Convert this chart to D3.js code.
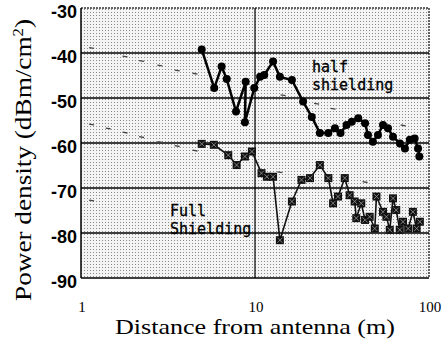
<!DOCTYPE html>
<html>
<head>
<meta charset="utf-8">
<script src="https://cdn.jsdelivr.net/npm/d3@7"></script>
<style>
  body { margin: 0; background: #fff; }
  svg { display: block; }
</style>
</head>
<body>
<svg id="chart" width="447" height="350"></svg>
<script>
// tick labels
const xTicks = [1, 10, 100];
const yTicks = [-30, -40, -50, -60, -70, -80, -90];
const gridLines = [-40, -50, -60, -70, -80];

// half shielding (circles): distance (m), power (dBm/cm2)
const halfX = [4.94, 5.83, 6.43, 6.88, 7.78, 8.84, 8.75, 9.9, 10.7, 11.3, 12.7, 13.9, 16.3, 18.9, 21.2, 23.6, 26.4, 28.8, 31.0, 33.6, 36.0, 39.2, 42.9, 44.6, 47.6, 50.9, 54.4, 58.1, 62.1, 68.1, 72.7, 77.6, 82.7, 86.5, 88.0];
const halfY = [-39.2, -47.8, -43.0, -45.8, -53.0, -46.4, -55.4, -47.8, -45.3, -44.9, -41.9, -45.3, -46.0, -50.8, -54.2, -57.8, -57.8, -56.7, -57.8, -56.0, -55.3, -54.5, -55.6, -58.2, -59.7, -58.2, -56.0, -56.7, -58.6, -60.1, -61.2, -59.3, -59.0, -61.2, -63.0];

// full shielding (squares)
const fullX = [4.94, 5.8, 7.02, 7.84, 8.75, 9.6, 10.9, 11.7, 12.7, 13.9, 16.3, 18.5, 20.7, 23.6, 26.4, 28.1, 30.0, 32.8, 35.0, 37.4, 38.2, 40.8, 42.9, 45.6, 48.8, 49.9, 54.4, 56.9, 59.5, 62.1, 64.8, 67.9, 70.9, 75.9, 80.8, 84.9, 88.6];
const fullY = [-60.2, -60.4, -62.7, -64.9, -63.0, -61.9, -66.7, -67.5, -67.5, -81.6, -73.0, -68.2, -67.8, -64.9, -67.8, -73.4, -71.9, -67.8, -71.6, -73.0, -76.7, -73.4, -77.1, -76.4, -79.0, -71.9, -75.3, -76.4, -79.3, -72.3, -74.9, -79.3, -77.5, -79.0, -75.3, -79.0, -77.5];

// faint dash markers (reference readings)
const dashX = [1.15, 1.435, 1.79, 2.23, 2.84, 3.57, 4.52, 14.5, 22.6, 28.1, 71.1, 1.15, 1.435, 1.79, 2.23, 2.84, 3.57, 4.52, 1.15, 13.9, 42.9, 56.9];
const dashY = [-38.8, -39.9, -40.7, -41.7, -42.7, -43.8, -44.5, -49.3, -51.2, -52.3, -56.0, -55.8, -56.7, -57.6, -58.6, -59.7, -60.6, -61.6, -72.7, -66.4, -68.6, -70.0];

const svg = d3.select('#chart');

const x = d3.scaleLog().domain([1, 100]).range([81, 429]);
const y = d3.scaleLinear().domain([-90, -30]).range([278, 8]);

// stippled background
const defs = svg.append('defs');
const pat = defs.append('pattern')
    .attr('id', 'stipple')
    .attr('patternUnits', 'userSpaceOnUse')
    .attr('width', 3)
    .attr('height', 3);
pat.append('rect').attr('width', 3).attr('height', 3).attr('fill', '#f4f4f4');
pat.append('rect').attr('width', 1).attr('height', 1).attr('fill', '#8a8a8a');

const plot = svg.append('g');

plot.append('rect')
    .attr('x', x(1))
    .attr('y', y(-30))
    .attr('width', x(100) - x(1))
    .attr('height', y(-90) - y(-30))
    .attr('fill', 'url(#stipple)');

// top / right borders (dotted), left / bottom (solid)
plot.append('line')
    .attr('x1', x(1)).attr('x2', x(100))
    .attr('y1', y(-30)).attr('y2', y(-30))
    .attr('stroke', '#333').attr('stroke-width', 1.5)
    .attr('stroke-dasharray', '2,1');
plot.append('line')
    .attr('x1', x(100)).attr('x2', x(100))
    .attr('y1', y(-30)).attr('y2', y(-90))
    .attr('stroke', '#333').attr('stroke-width', 1.5)
    .attr('stroke-dasharray', '2,1');
plot.append('line')
    .attr('x1', x(1)).attr('x2', x(1))
    .attr('y1', y(-30)).attr('y2', y(-90))
    .attr('stroke', '#000').attr('stroke-width', 1.5);
plot.append('line')
    .attr('x1', x(1)).attr('x2', x(100))
    .attr('y1', y(-90)).attr('y2', y(-90))
    .attr('stroke', '#000').attr('stroke-width', 1.5);

// grid lines
plot.append('g')
    .selectAll('line')
    .data(gridLines)
    .enter()
    .append('line')
    .attr('x1', x(1)).attr('x2', x(100))
    .attr('y1', d => y(d)).attr('y2', d => y(d))
    .attr('stroke', '#000')
    .attr('stroke-width', 1.5);

plot.append('line')
    .attr('x1', x(10)).attr('x2', x(10))
    .attr('y1', y(-30)).attr('y2', y(-90))
    .attr('stroke', '#000')
    .attr('stroke-width', 1.2);

// dash markers
plot.append('g')
    .selectAll('line')
    .data(dashX.map((d, i) => [d, dashY[i]]))
    .enter()
    .append('line')
    .attr('x1', d => x(d[0]) - 2.5)
    .attr('x2', d => x(d[0]) + 2.5)
    .attr('y1', d => y(d[1]))
    .attr('y2', d => y(d[1]) + 0.8)
    .attr('stroke', '#444')
    .attr('stroke-width', 1.3);

// full shielding
const fullData = fullX.map((d, i) => [d, fullY[i]]);
const line = d3.line().x(d => x(d[0])).y(d => y(d[1]));

plot.append('path')
    .datum(fullData)
    .attr('d', line)
    .attr('fill', 'none')
    .attr('stroke', '#111')
    .attr('stroke-width', 1.6);

const sq = plot.append('g')
    .selectAll('g')
    .data(fullData)
    .enter()
    .append('g')
    .attr('transform', d => `translate(${x(d[0])},${y(d[1])})`);
sq.append('rect')
    .attr('x', -4).attr('y', -4)
    .attr('width', 8).attr('height', 8)
    .attr('fill', '#111');
sq.append('path')
    .attr('d', 'M-2.5,-2.5L2.5,2.5M2.5,-2.5L-2.5,2.5')
    .attr('stroke', '#999')
    .attr('stroke-width', 0.8);

// half shielding
const halfData = halfX.map((d, i) => [d, halfY[i]]);

plot.append('path')
    .datum(halfData)
    .attr('d', line)
    .attr('fill', 'none')
    .attr('stroke', '#000')
    .attr('stroke-width', 2.5);

plot.append('g')
    .selectAll('circle')
    .data(halfData)
    .enter()
    .append('circle')
    .attr('cx', d => x(d[0]))
    .attr('cy', d => y(d[1]))
    .attr('r', 4)
    .attr('fill', '#000');

// annotations
const mono = "'DejaVu Sans Mono', 'Liberation Mono', monospace";
const notes = [
    { t: 'half', x: 312, y: 72 },
    { t: 'shielding', x: 312, y: 90 },
    { t: 'Full', x: 170, y: 216 },
    { t: 'Shielding', x: 170, y: 234 }
];
svg.append('g')
    .selectAll('text')
    .data(notes)
    .enter()
    .append('text')
    .attr('x', d => d.x)
    .attr('y', d => d.y)
    .attr('font-family', mono)
    .attr('font-size', 15)
    .attr('fill', '#000')
    .attr('stroke', '#000')
    .attr('stroke-width', 0.3)
    .text(d => d.t);

// y tick labels
svg.append('g')
    .selectAll('text')
    .data(yTicks)
    .enter()
    .append('text')
    .attr('x', 77)
    .attr('y', d => y(d) + 10)
    .attr('text-anchor', 'end')
    .attr('font-family', "'Liberation Sans', Arial, sans-serif")
    .attr('font-weight', 'bold')
    .attr('font-size', 18)
    .attr('fill', '#000')
    .text(d => d);

// x tick labels
svg.append('g')
    .selectAll('text')
    .data(xTicks)
    .enter()
    .append('text')
    .attr('x', d => x(d) + 1)
    .attr('y', 312)
    .attr('text-anchor', 'middle')
    .attr('font-family', "'Liberation Serif', 'Times New Roman', serif")
    .attr('font-size', 15)
    .attr('fill', '#000')
    .text(d => d);

// axis titles
svg.append('text')
    .attr('x', 255)
    .attr('y', 334)
    .attr('text-anchor', 'middle')
    .attr('font-family', "'Liberation Serif', 'Times New Roman', serif")
    .attr('font-size', 21)
    .attr('textLength', 280)
    .attr('lengthAdjust', 'spacingAndGlyphs')
    .text('Distance from antenna (m)');

const yTitle = svg.append('text')
    .attr('transform', 'translate(31,160) rotate(-90)')
    .attr('text-anchor', 'middle')
    .attr('font-family', "'Liberation Serif', 'Times New Roman', serif")
    .attr('font-size', 23)
    .attr('textLength', 282)
    .attr('lengthAdjust', 'spacingAndGlyphs');
yTitle.append('tspan').text('Power density (dBm/cm');
yTitle.append('tspan').attr('dy', -8).attr('font-size', 14).text('2');
yTitle.append('tspan').attr('dy', 8).text(')');
</script>
</body>
</html>
